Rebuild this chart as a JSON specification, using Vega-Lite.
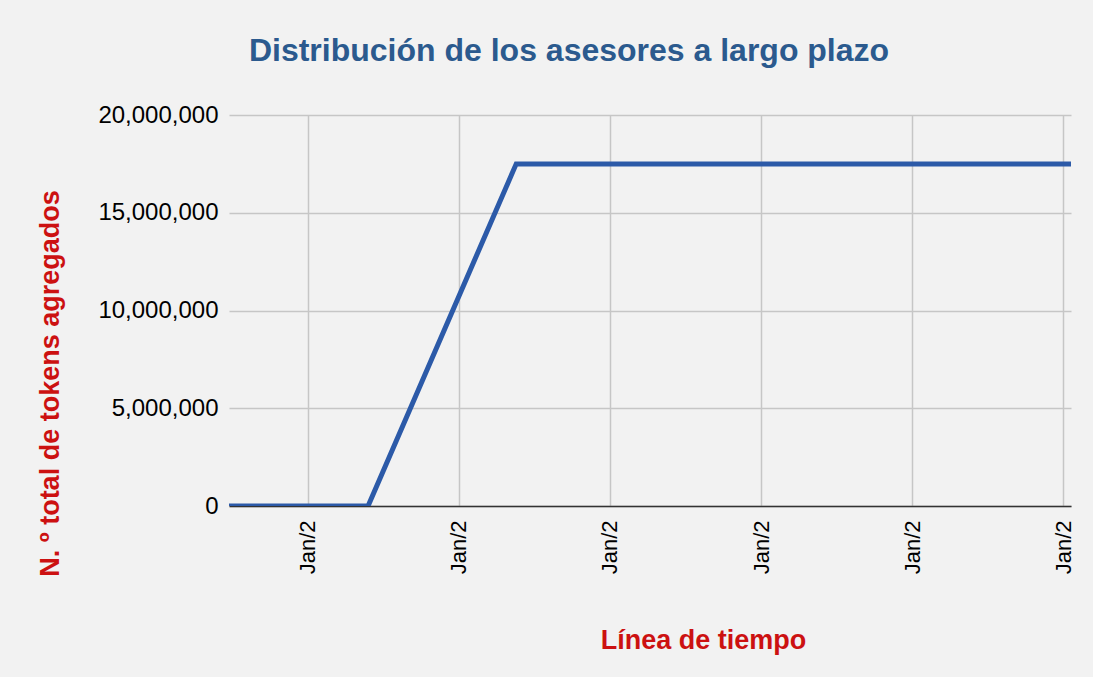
{
  "$schema": "https://vega.github.io/schema/vega-lite/v6.json",
  "width": 842,
  "height": 391,
  "autosize": {"type": "none"},
  "padding": {"left": 229, "top": 115, "right": 22, "bottom": 171},
  "background": "#f2f2f2",
  "title": {
    "text": "Distribución de los asesores a largo plazo",
    "font": "Liberation Sans",
    "fontSize": 32,
    "fontWeight": "bold",
    "color": "#2b5a8e",
    "anchor": "middle",
    "dx": -81,
    "offset": 35
  },
  "config": {
    "view": {"stroke": null},
    "axis": {"labelFont": "Liberation Sans", "titleFont": "Liberation Sans"}
  },
  "data": {
    "values": [
      {"t": -0.52, "v": 0},
      {"t": 0.40, "v": 0},
      {"t": 1.38, "v": 17500000},
      {"t": 5.05, "v": 17500000}
    ]
  },
  "mark": {"type": "line", "color": "#2c5aa8", "strokeWidth": 5, "strokeJoin": "miter", "clip": true},
  "encoding": {
    "x": {
      "field": "t",
      "type": "quantitative",
      "scale": {"domain": [-0.52, 5.05], "nice": false, "zero": false},
      "axis": {
        "values": [0, 1, 2, 3, 4, 5],
        "labelExpr": "'Jan/2'",
        "labelAngle": -90,
        "labelFontSize": 22,
        "labelColor": "#000000",
        "labelPadding": 14,
        "ticks": false,
        "grid": true,
        "gridColor": "#c6c6c6",
        "gridWidth": 1.5,
        "domainColor": "#333333",
        "domainWidth": 1.5,
        "title": "Línea de tiempo",
        "titleColor": "#cc1111",
        "titleFontSize": 27,
        "titleFontWeight": "bold",
        "titleX": 474,
        "titleY": 134,
        "titleBaseline": "middle",
        "titleAlign": "center"
      }
    },
    "y": {
      "field": "v",
      "type": "quantitative",
      "scale": {"domain": [0, 20000000], "nice": false},
      "axis": {
        "values": [0, 5000000, 10000000, 15000000, 20000000],
        "format": ",.0f",
        "labelFontSize": 24,
        "labelColor": "#000000",
        "labelPadding": 11,
        "ticks": false,
        "domain": false,
        "grid": true,
        "gridColor": "#c6c6c6",
        "gridWidth": 1.5,
        "title": "N. º total de tokens agregados",
        "titleColor": "#cc1111",
        "titleFontSize": 27,
        "titleFontWeight": "bold",
        "titleAngle": -90,
        "titleX": -179,
        "titleY": 268,
        "titleBaseline": "middle",
        "titleAlign": "center"
      }
    }
  }
}
